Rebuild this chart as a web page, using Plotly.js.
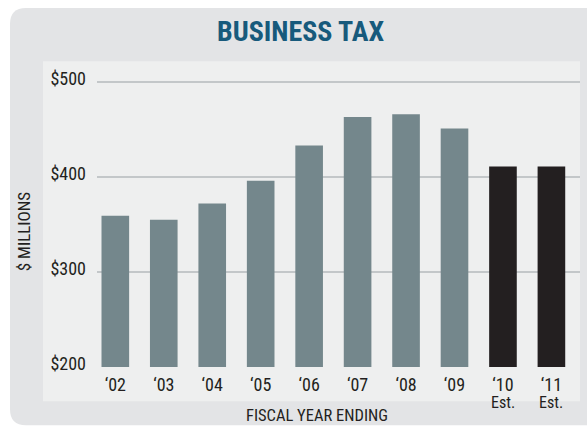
<!DOCTYPE html>
<html>
<head>
<meta charset="utf-8">
<script src="https://cdn.plot.ly/plotly-3.0.1.min.js"></script>
<style>
html,body{margin:0;padding:0;background:#fff;}
#chart{width:587px;height:427px;}
</style>
</head>
<body>
<div id="chart"></div>
<script>
// ---- data ----
var years = ["'02","'03","'04","'05","'06","'07","'08","'09","'10","'11"];
var tickLabels = ["\u201802","\u201803","\u201804","\u201805","\u201806","\u201807","\u201808","\u201809","\u201810","\u201811"];
var actualYears = ["'02","'03","'04","'05","'06","'07","'08","'09"];
var actualValues = [359, 355, 372, 396, 433, 463, 466, 451];
var estYears = ["'10","'11"];
var estValues = [411, 411];
var yTickVals = [200, 300, 400, 500];
var yTickText = ["$200", "$300", "$400", "$500"];

// ---- layout geometry ----
var W = 587, H = 427;
var M = {l: 97, r: 7, t: 78.85, b: 60.3};
var pw = W - M.l - M.r, ph = H - M.t - M.b;
function px(x){ return (x - M.l) / pw; }
function py(y){ return (H - M.b - y) / ph; }
function roundRect(x0, y0, x1, y1, r){
  var kx = r / pw, ky = r / ph;
  var X0 = px(x0), X1 = px(x1), Y0 = py(y0), Y1 = py(y1);
  return 'M' + (X0 + kx) + ',' + Y0 +
    ' L' + (X1 - kx) + ',' + Y0 +
    ' Q' + X1 + ',' + Y0 + ' ' + X1 + ',' + (Y0 - ky) +
    ' L' + X1 + ',' + (Y1 + ky) +
    ' Q' + X1 + ',' + Y1 + ' ' + (X1 - kx) + ',' + Y1 +
    ' L' + (X0 + kx) + ',' + Y1 +
    ' Q' + X0 + ',' + Y1 + ' ' + X0 + ',' + (Y1 + ky) +
    ' L' + X0 + ',' + (Y0 - ky) +
    ' Q' + X0 + ',' + Y0 + ' ' + (X0 + kx) + ',' + Y0 + ' Z';
}

var FONT = '"Liberation Sans Narrow", "Roboto Condensed", "DejaVu Sans Condensed", sans-serif';
var TXT = '#231f20';

var traces = [
  {type:'bar', x: actualYears, y: actualValues, marker:{color:'#74878c'}, width:0.57, hoverinfo:'x+y'},
  {type:'bar', x: estYears, y: estValues, marker:{color:'#231f20'}, width:0.57, hoverinfo:'x+y'}
];

var layout = {
  width: W, height: H,
  margin: M,
  paper_bgcolor: '#ffffff',
  plot_bgcolor: 'rgba(0,0,0,0)',
  showlegend: false,
  barmode: 'overlay',
  font: {family: FONT, color: TXT},
  xaxis: {
    type: 'category',
    categoryorder: 'array', categoryarray: years,
    tickvals: years, ticktext: tickLabels,
    range: [-0.378, 9.59],
    showgrid: false, zeroline: false, showline: false,
    ticks: '', ticklabelstandoff: 5,
    tickfont: {family: FONT, size: 18, color: TXT},
    fixedrange: true
  },
  yaxis: {
    range: [200, 503],
    tickvals: yTickVals, ticktext: yTickText,
    showgrid: true, gridcolor: '#c3c7c9', gridwidth: 1.5,
    zeroline: false, showline: false,
    ticks: '', ticklabelstandoff: 10, ticklabelshift: -3,
    tickfont: {family: FONT, size: 18, color: TXT},
    fixedrange: true
  },
  shapes: [
    {type:'path', xref:'paper', yref:'paper', layer:'below',
     path: roundRect(10, 8, 620, 425, 16), fillcolor:'#e3e4e6', line:{width:0}},
    {type:'rect', xref:'paper', yref:'paper', layer:'below',
     x0: px(43), x1: px(580), y0: py(401), y1: py(61), fillcolor:'#eeefef', line:{width:0}}
  ],
  annotations: [
    {text:'<b>BUSINESS TAX</b>', xref:'paper', yref:'paper', x: px(300), y: py(31),
     xanchor:'center', yanchor:'middle', showarrow:false,
     font:{family: FONT, size: 28, color:'#175a7c'}},
    {text:'FISCAL YEAR ENDING', xref:'paper', yref:'paper', x: px(316.7), y: py(415),
     xanchor:'center', yanchor:'middle', showarrow:false,
     font:{family: FONT, size: 16.5, color: TXT}},
    {text:'$ MILLIONS', xref:'paper', yref:'paper', x: px(24), y: py(231), textangle:-90,
     xanchor:'center', yanchor:'middle', showarrow:false,
     font:{family: FONT, size: 17, color: TXT}},
    {text:'Est.', xref:'x', yref:'paper', x: "'10", y: py(402.5),
     xanchor:'center', yanchor:'middle', showarrow:false,
     font:{family: FONT, size: 16, color: TXT}},
    {text:'Est.', xref:'x', yref:'paper', x: "'11", y: py(402.5),
     xanchor:'center', yanchor:'middle', showarrow:false,
     font:{family: FONT, size: 16, color: TXT}}
  ]
};

Plotly.newPlot('chart', traces, layout, {displayModeBar:false, staticPlot:true});
</script>
</body>
</html>
